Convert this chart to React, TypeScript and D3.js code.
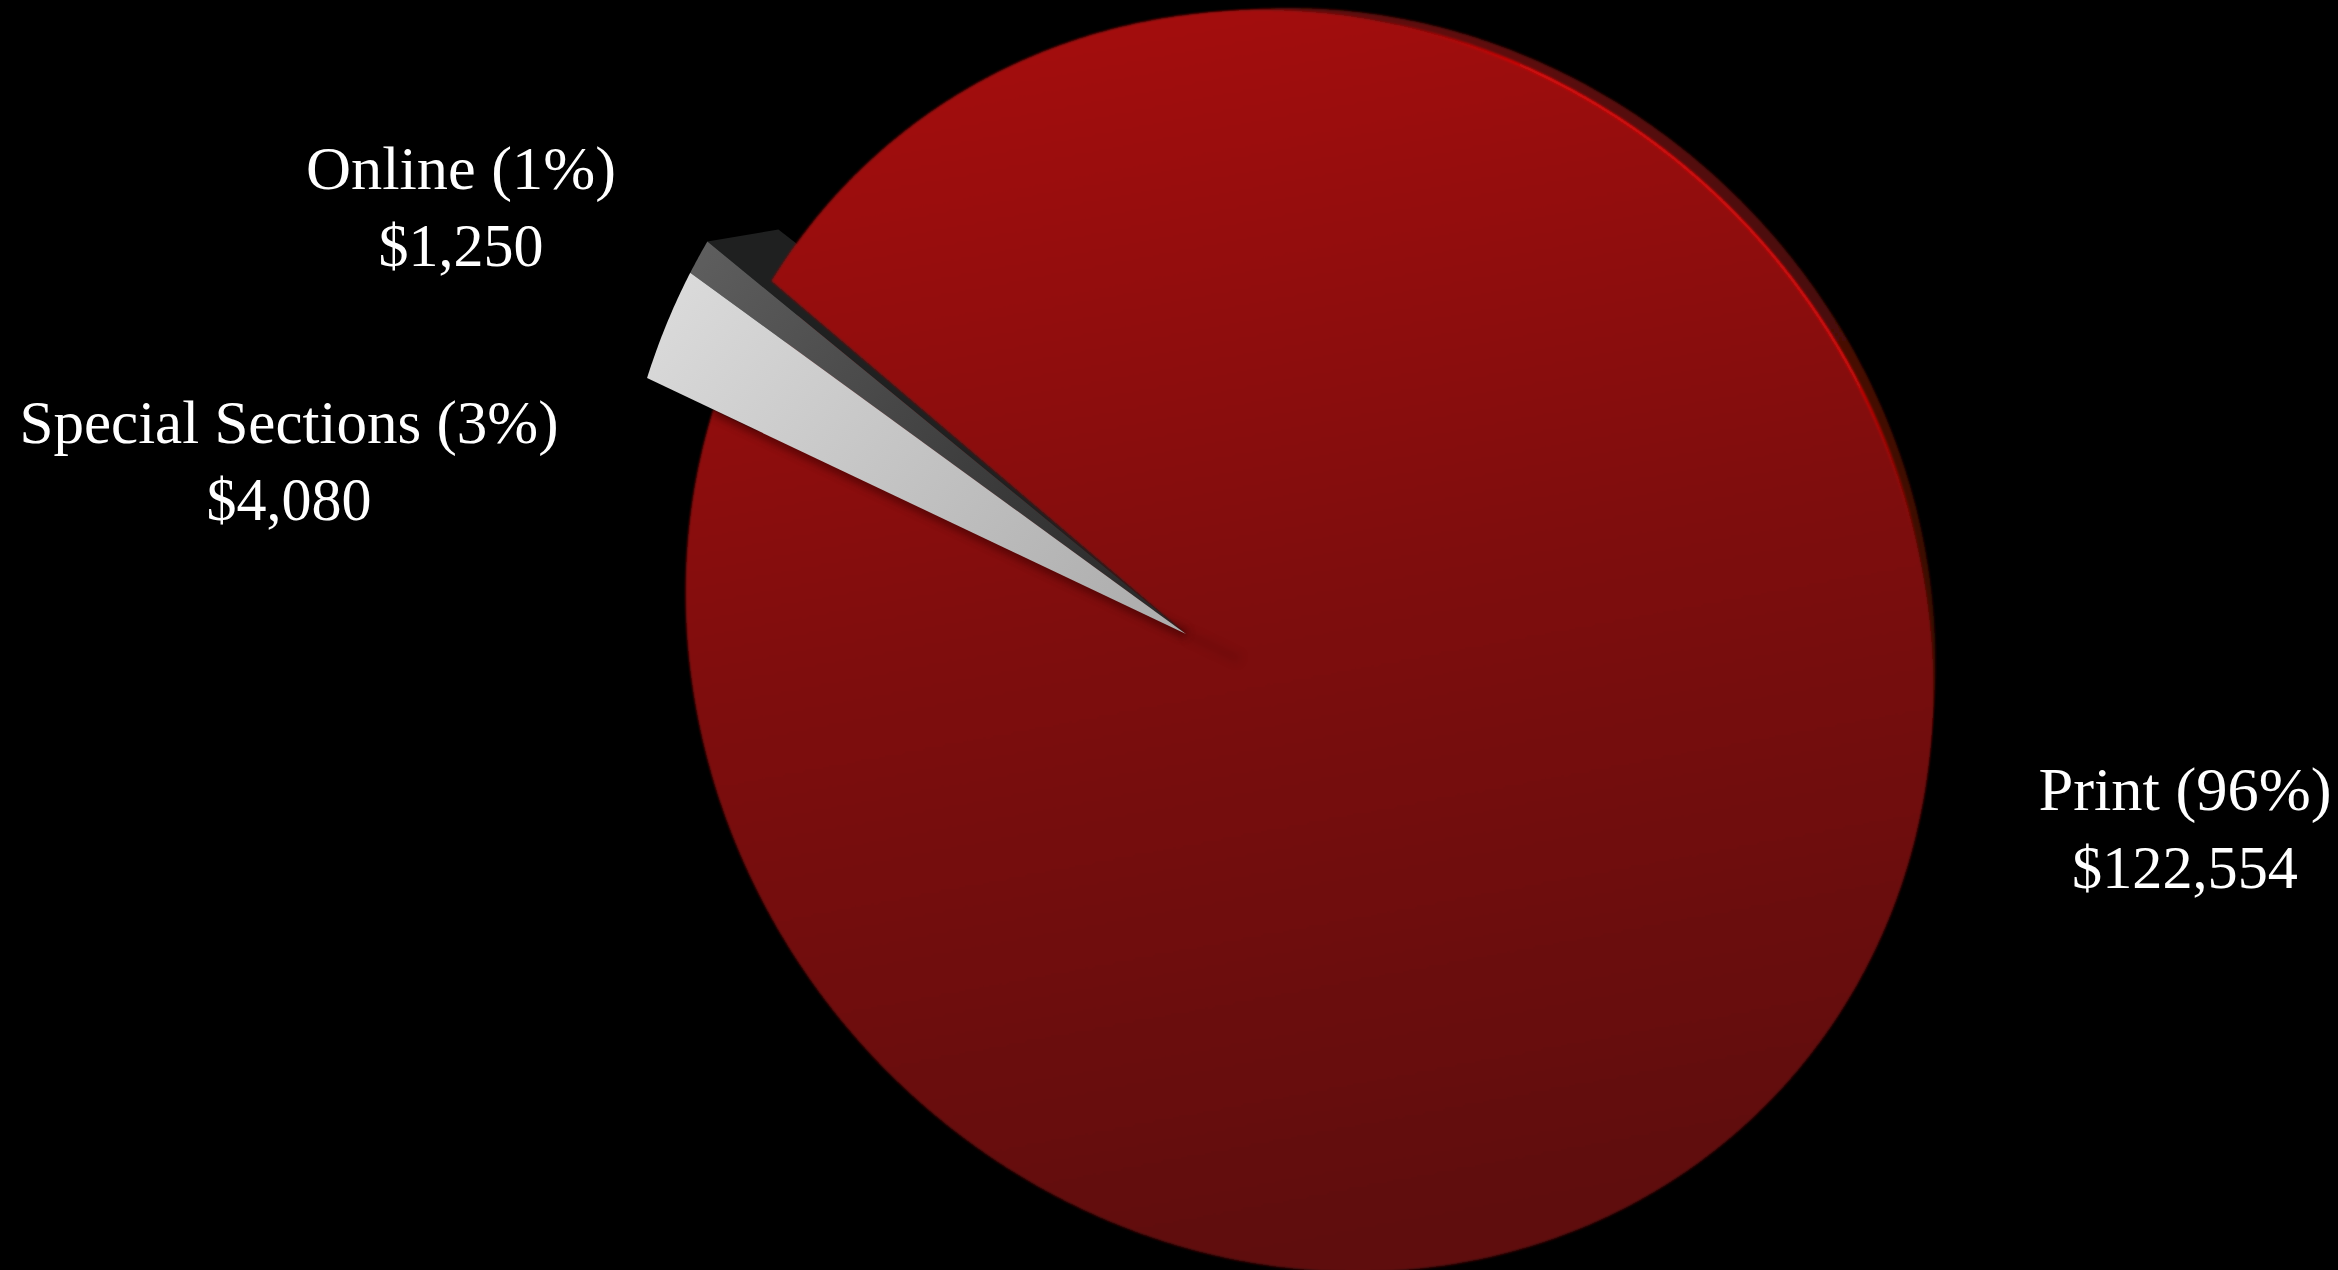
import React, { useEffect } from "react";
import * as d3 from "d3";

// Advertising revenue by channel
const channels = ["Special Sections", "Online", "Print"];
const revenue = [4080, 1250, 122554];

const WIDTH = 2338;
const HEIGHT = 1270;

// Tilted disc outline: centre and covariance-style shape of the ellipse
const DISC = { cx: 1309.5, cy: 641, xx: 624, yy: 631, xy: 30000 };
// Hub of the slices sits off-centre because the disc is seen in perspective
const HUB = { x: 1186, y: 634 };
const START_ANGLE = (295.4 * Math.PI) / 180;
const PULLED_OUT = 1.14;
const SLICE_SQUEEZE = 0.93;

const labelSpots = [
  { cx: 289, y: 443, y2: 520, w1: 539, w2: 165 },
  { cx: 461, y: 189, y2: 266, w1: 310, w2: 165 },
  { cx: 2185, y: 810, y2: 888, w1: 293, w2: 226 },
];

const pct = d3.format(".0%");
const money = d3.format("$,");

// Distance from the hub to the disc edge along a pie angle
function edgeDistance(a: number, grow = 0, ox = 0, oy = 0) {
  const { xx, yy, xy } = DISC;
  const sxx = (xx + grow) ** 2;
  const syy = (yy + grow) ** 2;
  const det = sxx * syy - xy * xy;
  const dx = Math.sin(a);
  const dy = -Math.cos(a);
  const px = HUB.x - DISC.cx - ox;
  const py = HUB.y - DISC.cy - oy;
  const q = (u: number, v: number, s: number, t: number) =>
    (syy * u * s - xy * (u * t + v * s) + sxx * v * t) / det;
  const A = q(dx, dy, dx, dy);
  const B = q(dx, dy, px, py);
  const C = q(px, py, px, py) - 1;
  return (-B + Math.sqrt(B * B - A * C)) / A;
}

const polar = (a: number, r: number): [number, number] => [
  HUB.x + r * Math.sin(a),
  HUB.y - r * Math.cos(a),
];

const outline = d3.line<[number, number]>().x((p) => p[0]).y((p) => p[1]);

function sector(a0: number, a1: number, k = 1) {
  const n = Math.max(2, Math.ceil(((a1 - a0) * 180) / Math.PI) * 3);
  const arc = d3.range(n + 1).map((i) => {
    const a = a0 + ((a1 - a0) * i) / n;
    return polar(a, edgeDistance(a) * k);
  });
  return outline([[HUB.x, HUB.y], ...arc]) + "Z";
}

function arcOnly(a0: number, a1: number) {
  const n = 400;
  return outline(
    d3.range(n + 1).map((i) => {
      const a = a0 + ((a1 - a0) * i) / n;
      return polar(a, edgeDistance(a));
    })
  );
}

function discPath(grow: number, ox: number, oy: number) {
  const pts = d3.range(0, 720).map((i) => {
    const a = (i / 720) * 2 * Math.PI;
    const r = edgeDistance(a, grow, ox, oy);
    return polar(a, r);
  });
  return outline(pts) + "Z";
}

export default function App() {
  useEffect(() => {
    document.body.style.margin = "0";
    document.body.style.background = "#000";
  }, []);

  const slices = d3
    .pie<number>()
    .sort(null)
    .startAngle(START_ANGLE)
    .endAngle(START_ANGLE + 2 * Math.PI)(revenue);
  const [special, online, print] = slices;
  const total = d3.sum(revenue);

  const squeeze = (a: number) => START_ANGLE + (a - START_ANGLE) * SLICE_SQUEEZE;
  const sideStart = polar(squeeze(online.endAngle), edgeDistance(squeeze(online.endAngle)) * PULLED_OUT);
  const sidePts: [number, number][] = [
    [HUB.x, HUB.y],
    sideStart,
    [sideStart[0] + 71, sideStart[1] - 12],
    [sideStart[0] + 89, sideStart[1] + 2],
  ];
  const shadowEnd = polar(special.startAngle, edgeDistance(special.startAngle));
  const tail = polar(special.startAngle + Math.PI, 60);

  return (
    <svg
      width={WIDTH}
      height={HEIGHT}
      viewBox={`0 0 ${WIDTH} ${HEIGHT}`}
      style={{ position: "fixed", left: 0, top: 0, display: "block", background: "#000" }}
    >
      <defs>
        <linearGradient id="printFill" gradientUnits="userSpaceOnUse" x1={1100} y1={30} x2={1330} y2={1270}>
          <stop offset="0" stopColor="#a30a0a" />
          <stop offset="0.45" stopColor="#800808" />
          <stop offset="1" stopColor="#5e0909" />
        </linearGradient>
        <linearGradient id="specialFill" gradientUnits="userSpaceOnUse" x1={650} y1={280} x2={1100} y2={640}>
          <stop offset="0" stopColor="#dcdcdc" />
          <stop offset="1" stopColor="#afafaf" />
        </linearGradient>
        <linearGradient id="onlineFill" gradientUnits="userSpaceOnUse" x1={700} y1={250} x2={1170} y2={630}>
          <stop offset="0" stopColor="#5e5e5e" />
          <stop offset="1" stopColor="#262626" />
        </linearGradient>
        <linearGradient id="rimFill" gradientUnits="userSpaceOnUse" x1={1500} y1={30} x2={1930} y2={620}>
          <stop offset="0" stopColor="#5e0b08" />
          <stop offset="1" stopColor="#3a0806" />
        </linearGradient>
        <linearGradient id="glint" gradientUnits="userSpaceOnUse" x1={1380} y1={20} x2={1910} y2={560}>
          <stop offset="0" stopColor="#e00808" stopOpacity="0" />
          <stop offset="0.2" stopColor="#e00808" />
          <stop offset="0.75" stopColor="#d80808" />
          <stop offset="1" stopColor="#d80808" stopOpacity="0" />
        </linearGradient>
        <filter id="soft1" x="-5%" y="-5%" width="110%" height="110%">
          <feGaussianBlur stdDeviation="0.8" />
        </filter>
        <filter id="soft2" filterUnits="userSpaceOnUse" x="0" y="0" width={WIDTH} height={HEIGHT}>
          <feGaussianBlur stdDeviation="1.1" />
        </filter>
        <filter id="soft6" filterUnits="userSpaceOnUse" x="0" y="0" width={WIDTH} height={HEIGHT}>
          <feGaussianBlur stdDeviation="4" />
        </filter>
        <clipPath id="printClip">
          <path d={sector(print.startAngle, print.endAngle)} />
        </clipPath>
      </defs>

      <rect width={WIDTH} height={HEIGHT} fill="#000" />

      {/* back rim of the disc */}
      <path d={discPath(-28, 30, -30)} fill="url(#rimFill)" filter="url(#soft1)" />

      {/* extruded side of the pulled-out slices */}
      <path d={outline(sidePts) + "Z"} fill="#1f2020" />

      {/* main slice */}
      <path d={sector(print.startAngle, print.endAngle)} fill="url(#printFill)" filter="url(#soft1)" />

      {/* highlight along the upper-right edge */}
      <path
        d={arcOnly((8 * Math.PI) / 180, (88 * Math.PI) / 180)}
        fill="none"
        stroke="url(#glint)"
        strokeWidth={3}
        filter="url(#soft2)"
      />

      {/* shadow cast on the main slice by the pulled-out slices */}
      <g clipPath="url(#printClip)">
        <path
          d={outline([[HUB.x, HUB.y], shadowEnd])}
          stroke="#3c0404"
          strokeWidth={8}
          fill="none"
          opacity={0.75}
          filter="url(#soft6)"
        />
        <path
          d={outline([[HUB.x, HUB.y], tail])}
          stroke="#3c0404"
          strokeWidth={10}
          fill="none"
          opacity={0.14}
          filter="url(#soft6)"
        />
      </g>

      {/* pulled-out slices */}
      <path d={sector(squeeze(online.startAngle), squeeze(online.endAngle), PULLED_OUT)} fill="url(#onlineFill)" />
      <path d={sector(squeeze(special.startAngle), squeeze(special.endAngle), PULLED_OUT)} fill="url(#specialFill)" />

      {channels.map((name, i) => {
        const spot = labelSpots[i];
        return (
          <g
            key={name}
            fill="#fff"
            textAnchor="middle"
            fontFamily="'Liberation Serif', serif"
            fontSize={62}
          >
            <text x={spot.cx} y={spot.y} textLength={spot.w1} lengthAdjust="spacingAndGlyphs">
              {`${name} (${pct(revenue[i] / total)})`}
            </text>
            <text x={spot.cx} y={spot.y2} textLength={spot.w2} lengthAdjust="spacingAndGlyphs">
              {money(revenue[i])}
            </text>
          </g>
        );
      })}
    </svg>
  );
}
